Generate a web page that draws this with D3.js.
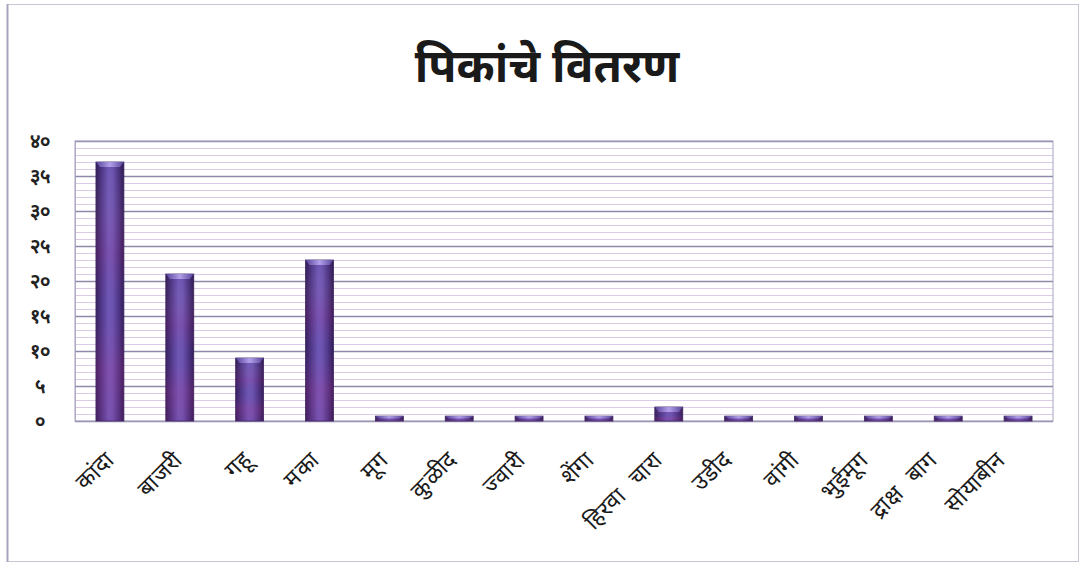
<!DOCTYPE html>
<html>
<head>
<meta charset="utf-8">
<script src="https://cdn.jsdelivr.net/npm/d3@7"></script>
<style>
  html, body { margin: 0; padding: 0; background: #ffffff; }
  svg { display: block; font-family: "Noto Sans Devanagari", "Noto Sans", "Lohit Devanagari", sans-serif; }
</style>
</head>
<body>
<svg id="chart" width="1081" height="565"></svg>
<script>
const title = "पिकांचे वितरण";
const categories = ["कांदा", "बाजरी", "गहू", "मका", "मूग", "कुळीद", "ज्वारी", "शेंगा", "हिरवा चारा", "उडीद", "वांगी", "भुईमूग", "द्राक्ष बाग", "सोयाबीन"];
const values = [37, 21, 9, 23, 0.7, 0.7, 0.7, 0.7, 2, 0.7, 0.7, 0.7, 0.7, 0.7];
const yTicks = [0, 5, 10, 15, 20, 25, 30, 35, 40];
const yTickLabels = ["०", "५", "१०", "१५", "२०", "२५", "३०", "३५", "४०"];

const svg = d3.select("#chart");
const W = 1081, H = 565;
const m = { left: 75, right: 28, top: 141, bottom: 144 };

// outer frame
svg.append("rect").attr("x", 7.5).attr("y", 4.5).attr("width", 1071).attr("height", 557)
  .attr("fill", "#fff").attr("stroke", "#c9c4d8").attr("stroke-width", 1);
svg.append("line").attr("x1", 7.5).attr("x2", 7.5).attr("y1", 4).attr("y2", 562)
  .attr("stroke", "#a9a3bf").attr("stroke-width", 2);

const x = d3.scaleBand().domain(categories).range([m.left, W - m.right]).paddingInner(0.6).paddingOuter(0.3);
const xLabel = d3.scaleBand().domain(categories).range([81, 1041]).paddingInner(0.6).paddingOuter(0.3);
const y = d3.scaleLinear().domain([0, 40]).range([H - m.bottom, m.top]);

// gradients
const defs = svg.append("defs");
const g = defs.append("linearGradient").attr("id", "barGrad").attr("x1", "0").attr("x2", "1").attr("y1", "0").attr("y2", "0");
[["0%", "#2f1a52"], ["18%", "#4a3180"], ["45%", "#6d56b4"], ["60%", "#6a52ae"], ["85%", "#452c78"], ["100%", "#2a1648"]]
  .forEach(([o, c]) => g.append("stop").attr("offset", o).attr("stop-color", c));
const gv = defs.append("linearGradient").attr("id", "barTint").attr("x1", "0").attr("x2", "0").attr("y1", "0").attr("y2", "1");
[["0%", "#ffffff", 0], ["35%", "#c0409a", 0.16], ["55%", "#6a60c0", 0.1], ["80%", "#c0409a", 0.22], ["100%", "#c0409a", 0.12]]
  .forEach(([o, c, op]) => gv.append("stop").attr("offset", o).attr("stop-color", c).attr("stop-opacity", op));
const gt = defs.append("linearGradient").attr("id", "capGrad").attr("x1", "0").attr("x2", "1").attr("y1", "0").attr("y2", "0");
[["0%", "#5a45a0"], ["50%", "#b8a8ee"], ["100%", "#5a45a0"]]
  .forEach(([o, c]) => gt.append("stop").attr("offset", o).attr("stop-color", c));

// minor gridlines
const minor = d3.range(0, 41, 1).filter(v => v % 5 !== 0);
svg.append("g").selectAll("line").data(minor).join("line")
  .attr("x1", m.left).attr("x2", W - m.right)
  .attr("y1", d => Math.round(y(d)) + 0.5).attr("y2", d => Math.round(y(d)) + 0.5)
  .attr("stroke", "#dccbe6").attr("stroke-width", 1);

// major gridlines via axis
const yAxis = d3.axisLeft(y).tickValues(yTicks).tickFormat((d, i) => yTickLabels[i])
  .tickSize(-(W - m.left - m.right)).tickPadding(24);
const ya = svg.append("g").attr("transform", `translate(${m.left},0)`).call(yAxis);
ya.select(".domain").attr("stroke", "#b8b2cc");
ya.selectAll(".tick line").attr("stroke", "#8e88aa").attr("stroke-width", 1.3);
ya.selectAll(".tick text").attr("fill", "#222").attr("font-size", 20).attr("font-weight", 600).attr("text-anchor", "middle").attr("dx", -11);

// plot frame
svg.append("rect").attr("x", m.left).attr("y", m.top).attr("width", W - m.left - m.right).attr("height", H - m.top - m.bottom)
  .attr("fill", "none").attr("stroke", "#a8a2c0").attr("stroke-width", 1);

// bars
const bars = svg.append("g");
bars.selectAll("rect.bar").data(values).join("rect").attr("class", "bar")
  .attr("x", (d, i) => x(categories[i])).attr("width", x.bandwidth())
  .attr("y", d => y(d)).attr("height", d => y(0) - y(d))
  .attr("fill", "url(#barGrad)").attr("stroke", "#3a2260").attr("stroke-width", 0.8);
bars.selectAll("rect.tint").data(values).join("rect").attr("class", "tint")
  .attr("x", (d, i) => x(categories[i])).attr("width", x.bandwidth())
  .attr("y", d => y(d)).attr("height", d => y(0) - y(d))
  .attr("fill", "url(#barTint)");
bars.selectAll("path.cap").data(values).join("path").attr("class", "cap")
  .attr("d", (d, i) => {
    const x0 = x(categories[i]), w = x.bandwidth(), t = y(d);
    const h = Math.min(5, (y(0) - y(d)) / 2);
    return `M${x0},${t} L${x0 + w},${t} L${x0 + w - 4},${t + h} L${x0 + 4},${t + h} Z`;
  })
  .attr("fill", "url(#capGrad)").attr("opacity", 0.9);

// x axis labels
const xAxis = d3.axisBottom(xLabel).tickSize(0).tickPadding(0);
const xa = svg.append("g").attr("transform", `translate(0,${H - m.bottom})`).call(xAxis);
xa.select(".domain").remove();
xa.selectAll(".tick text")
  .attr("font-size", 23).attr("fill", "#1a1a1a")
  .attr("text-anchor", "end").attr("dy", 0).attr("letter-spacing", 0.5).attr("word-spacing", 8)
  .attr("transform", "translate(0,40) rotate(-45)");

// title
svg.append("text").attr("x", 547).attr("y", 82).attr("text-anchor", "middle")
  .attr("font-size", 46).attr("font-weight", "bold").attr("fill", "#1a1a1a").text(title);
</script>
</body>
</html>
